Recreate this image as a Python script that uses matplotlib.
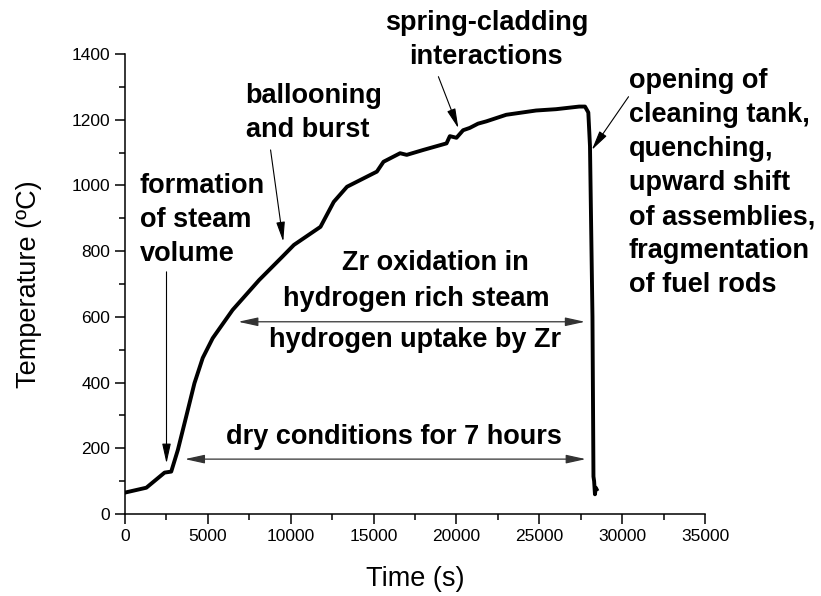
import matplotlib
matplotlib.use('Agg')
import matplotlib.pyplot as plt
from matplotlib.ticker import MultipleLocator

plt.rcParams['font.family'] = ['Liberation Sans', 'DejaVu Sans']

# temperature history
time = [0, 1300, 2400, 2800, 3200, 3700, 4200, 4700, 5300, 6500, 8100, 9500,
        10200, 11800, 12600, 13400, 15200, 15600, 16600, 17000, 18000, 19400,
        19600, 20000, 20400, 20800, 21300, 21800, 23000, 24800, 26000, 27400,
        27750, 27950, 28050, 28200, 28260, 28300, 28350, 28400, 28450]
temp = [65, 80, 126, 129, 195, 296, 398, 475, 535, 621, 712, 783,
        819, 874, 950, 996, 1042, 1072, 1098, 1093, 1108, 1128,
        1150, 1145, 1168, 1175, 1188, 1195, 1215, 1228, 1232, 1240,
        1240, 1222, 1120, 600, 114, 100, 60, 80, 75]

fig = plt.figure(figsize=(8.21, 5.96), dpi=100)
ax = fig.add_axes([0.152, 0.1376, 0.707, 0.7718])
ax.plot(time, temp, color='k', lw=2.8, solid_joinstyle='round')

ax.set_xlim(0, 35000)
ax.set_ylim(0, 1400)
ax.xaxis.set_major_locator(MultipleLocator(5000))
ax.xaxis.set_minor_locator(MultipleLocator(2500))
ax.yaxis.set_major_locator(MultipleLocator(200))
ax.yaxis.set_minor_locator(MultipleLocator(100))
ax.spines['top'].set_visible(False)
ax.spines['right'].set_visible(False)
for s in ['left', 'bottom']:
    ax.spines[s].set_linewidth(1.1)
ax.tick_params(which='major', direction='out', length=7, width=1.1, labelsize=12.5)
ax.tick_params(which='minor', direction='out', length=4, width=1.1)
ax.set_xlabel('Time (s)', fontsize=19.5, labelpad=16)
ax.set_ylabel('Temperature (ºC)', fontsize=19.5, labelpad=21)

fs = 19.5
bold = dict(fontsize=fs, fontweight='bold', linespacing=1.4)
ax.text(905, 895, 'formation\nof steam\nvolume', ha='left', va='center', **bold)
ax.text(7285, 1219, 'ballooning\nand burst', ha='left', va='center', **bold)
ax.text(21800, 1443, 'spring-cladding\ninteractions', ha='center', va='center',
        clip_on=False, **bold)
ax.text(30375, 1007, 'opening of\ncleaning tank,\nquenching,\nupward shift\n'
        'of assemblies,\nfragmentation\nof fuel rods', ha='left', va='center',
        clip_on=False, **bold)
ax.text(18750, 763, 'Zr oxidation in', ha='center', va='center', **bold)
ax.text(17600, 655, 'hydrogen rich steam', ha='center', va='center', **bold)
ax.text(17500, 530, 'hydrogen uptake by Zr', ha='center', va='center', **bold)
ax.text(16200, 235, 'dry conditions for 7 hours', ha='center', va='center', **bold)

one = dict(arrowstyle='-|>,head_length=1.0,head_width=0.22', color='k',
           lw=0.8, mutation_scale=12, shrinkA=0, shrinkB=0)
two = dict(arrowstyle='<|-|>,head_length=1.0,head_width=0.22', color='#333333',
           lw=0.9, mutation_scale=12, shrinkA=0, shrinkB=0)
ax.annotate('', xy=(2515, 154), xytext=(2515, 737), arrowprops=one)
ax.annotate('', xy=(9555, 829), xytext=(8790, 1108), arrowprops=one)
ax.annotate('', xy=(20115, 1174), xytext=(18910, 1331), arrowprops=one)
ax.annotate('', xy=(28160, 1108), xytext=(30375, 1270), arrowprops=one,
            annotation_clip=False)
ax.annotate('', xy=(3620, 167), xytext=(27800, 167), arrowprops=two)
ax.annotate('', xy=(6840, 585), xytext=(27750, 585), arrowprops=two)

fig.savefig('out.png', dpi=100)
